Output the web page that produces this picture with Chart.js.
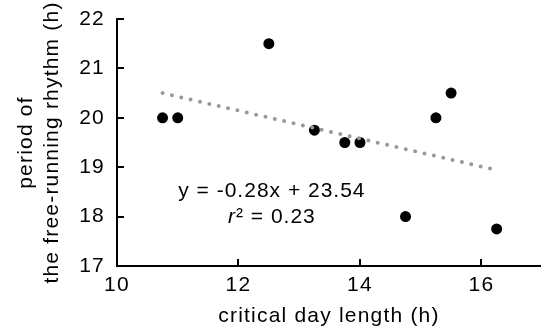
<!DOCTYPE html>
<html>
<head>
<meta charset="utf-8">
<script src="https://cdn.jsdelivr.net/npm/chart.js@4.4.0/dist/chart.umd.min.js"></script>
<style>
  body { margin: 0; background: #fff; }
  canvas { display: block; }
</style>
</head>
<body>
<canvas id="chart" width="541" height="332"></canvas>
<script>
// critical day length (h) vs period of free-running rhythm (h)
const criticalDayLength = [10.75, 11, 12.5, 13.25, 13.75, 14, 14.75, 15.25, 15.5, 16.25];
const freeRunPeriod = [20, 20, 21.5, 19.75, 19.5, 19.5, 18, 20, 20.5, 17.75];
const trendX = [10.75, 16.15];
const trendY = [20.5, 18.97];
const xTicks = [10, 12, 14, 16];
const equationText = "y = -0.28x + 23.54";
const r2Text = "² = 0.23";

const FONT = "'Liberation Sans', Arial, sans-serif";
Chart.defaults.font.family = FONT;
Chart.defaults.font.size = 21;
Chart.defaults.color = "#000";

// the reference text is slightly tracked out
const spacing = {
  id: "spacing",
  beforeUpdate(chart) { chart.ctx.letterSpacing = "1.2px"; },
  beforeDraw(chart) { chart.ctx.letterSpacing = "1.2px"; }
};

const equation = {
  id: "equation",
  afterDraw(chart) {
    const ctx = chart.ctx;
    const cx = chart.scales.x.getPixelForValue(12.55);
    const y1 = chart.scales.y.getPixelForValue(18.39);
    const y2 = y1 + 26;
    ctx.save();
    ctx.letterSpacing = "1px";
    ctx.fillStyle = "#000";
    ctx.textBaseline = "alphabetic";
    ctx.font = "21px " + FONT;
    ctx.textAlign = "center";
    ctx.fillText(equationText, cx, y1);

    ctx.textAlign = "left";
    ctx.font = "italic 21px " + FONT;
    const wr = ctx.measureText("r").width;
    ctx.font = "21px " + FONT;
    const wRest = ctx.measureText(r2Text).width;
    let x = cx - (wr + wRest) / 2;
    ctx.font = "italic 21px " + FONT;
    ctx.fillText("r", x, y2);
    ctx.font = "21px " + FONT;
    ctx.fillText(r2Text, x + wr, y2);
    ctx.restore();
  }
};

const axisLine = { display: true, color: "#000", width: 2 };
const inTicks = { display: true, drawOnChartArea: false, drawTicks: true, tickLength: -7, color: "#000", lineWidth: 2 };

new Chart(document.getElementById("chart"), {
  type: "scatter",
  data: {
    datasets: [
      {
        label: "trend",
        data: trendX.map((x, i) => ({ x: x, y: trendY[i] })),
        showLine: true,
        borderColor: "#999999",
        borderWidth: 4,
        borderDash: [0, 9.6],
        borderCapStyle: "round",
        pointRadius: 0,
        fill: false
      },
      {
        label: "period",
        data: criticalDayLength.map((x, i) => ({ x: x, y: freeRunPeriod[i] })),
        backgroundColor: "#000",
        borderWidth: 0,
        pointRadius: 5.5
      }
    ]
  },
  options: {
    responsive: false,
    animation: false,
    layout: { autoPadding: false, padding: { top: 19, right: 0, left: 0, bottom: 0 } },
    plugins: { legend: { display: false }, tooltip: { enabled: false } },
    scales: {
      x: {
        type: "linear",
        min: 10,
        max: 16.98,
        border: axisLine,
        grid: inTicks,
        afterBuildTicks: (scale) => { scale.ticks = xTicks.map(v => ({ value: v })); },
        afterFit: (scale) => {
          scale.height = 66;
          scale.paddingLeft = 0;
          scale.paddingRight = 0;
        },
        ticks: { padding: 14, font: { size: 21 } },
        title: { display: true, text: "critical day length (h)", font: { size: 21 }, padding: { top: 0, bottom: 3 } }
      },
      y: {
        min: 17,
        max: 22,
        border: axisLine,
        grid: inTicks,
        afterFit: (scale) => {
          scale.width = 117;
          scale.paddingTop = 0;
          scale.paddingBottom = 0;
        },
        ticks: { stepSize: 1, padding: 19, font: { size: 21 } },
        title: { display: true, text: ["period of", "the free-running rhythm (h)"], font: { size: 21 }, padding: { top: 14, bottom: 0 } }
      }
    }
  },
  plugins: [spacing, equation]
});
</script>
</body>
</html>
